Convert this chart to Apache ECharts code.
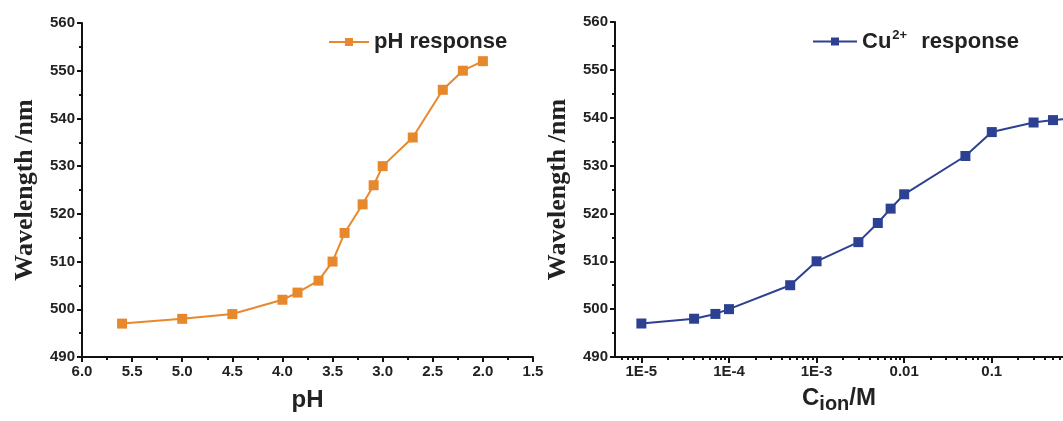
<!DOCTYPE html>
<html>
<head>
<meta charset="utf-8">
<script src="https://cdn.jsdelivr.net/npm/echarts@6/dist/echarts.min.js"></script>
<style>
  html, body { margin: 0; padding: 0; background: #fff; }
  #chart { width: 1063px; height: 421px; }
</style>
</head>
<body>
<div id="chart"></div>
<script>
// pH 响应数据
const phValues = [5.6, 5.0, 4.5, 4.0, 3.85, 3.64, 3.5, 3.38, 3.2, 3.09, 3.0, 2.7, 2.4, 2.2, 2.0];
const phWavelength = [497, 498, 499, 502, 503.5, 506, 510, 516, 522, 526, 530, 536, 546, 550, 552];

// Cu2+ 响应数据
const cuConc = [1e-5, 4e-5, 7e-5, 1e-4, 5e-4, 1e-3, 3e-3, 5e-3, 7e-3, 0.01, 0.05, 0.1, 0.3, 0.5, 1];
const cuWavelength = [497, 498, 499, 500, 505, 510, 514, 518, 521, 524, 532, 537, 539, 539.5, 540];

// 对数轴刻度
const logMajor = [1e-5, 1e-4, 1e-3, 0.01, 0.1];
const logLabels = { '-5': '1E-5', '-4': '1E-4', '-3': '1E-3', '-2': '0.01', '-1': '0.1' };
const logMinor = [];
[-6, -5, -4, -3, -2, -1].forEach(e => {
    for (let k = 2; k <= 9; k++) logMinor.push(k * Math.pow(10, e));
});

const orange = '#E8882C';
const blue = '#2C4192';

const tickLabel = { fontFamily: 'Liberation Sans', fontWeight: 'bold', fontSize: 15, color: '#222', margin: 7 };
const axisLineStyle = { show: true, onZero: false, lineStyle: { color: '#111', width: 2 } };

function yAxisFor(gridIndex, gap) {
    return {
        type: 'value', gridIndex: gridIndex, min: 490, max: 560, interval: 10,
        name: 'Wavelength /nm', nameLocation: 'middle', nameGap: gap,
        nameTextStyle: { fontFamily: 'Liberation Serif', fontWeight: 'bold', fontSize: 26, color: '#222' },
        axisLine: axisLineStyle,
        axisTick: { show: true, length: 5, lineStyle: { color: '#111', width: 2 } },
        minorTick: { show: true, splitNumber: 2, length: 3, lineStyle: { color: '#111', width: 2 } },
        axisLabel: Object.assign({}, tickLabel),
        splitLine: { show: false }
    };
}

const chart = echarts.init(document.getElementById('chart'));
chart.setOption({
    animation: false,
    backgroundColor: '#fff',
    grid: [
        { left: 82, right: 530, top: 23, bottom: 64 },
        { left: 615, right: 0, top: 22, bottom: 64 }
    ],
    legend: [
        {
            data: ['pH response'], left: 323, top: 26,
            itemWidth: 40, itemHeight: 10, itemGap: 6,
            textStyle: { fontFamily: 'Liberation Sans', fontWeight: 'bold', fontSize: 22, color: '#222' }
        },
        {
            data: ['Cu2+ response'], left: 807, top: 24,
            itemWidth: 44, itemHeight: 10, itemGap: 6,
            formatter: () => 'Cu{sup|2+} response',
            textStyle: {
                fontFamily: 'Liberation Sans', fontWeight: 'bold', fontSize: 22, color: '#222',
                rich: { sup: { fontFamily: 'Liberation Sans', fontWeight: 'bold', fontSize: 13, color: '#222', verticalAlign: 'top', padding: [0, 8, 12, 1] } }
            }
        }
    ],
    xAxis: [
        {
            type: 'value', gridIndex: 0, min: 1.5, max: 6, interval: 0.5, inverse: true,
            name: 'pH', nameLocation: 'middle', nameGap: 31,
            nameTextStyle: { fontFamily: 'Liberation Sans', fontWeight: 'bold', fontSize: 24, color: '#222' },
            axisLine: axisLineStyle,
            axisTick: { show: true, length: 5, lineStyle: { color: '#111', width: 2 } },
            minorTick: { show: true, splitNumber: 2, length: 3, lineStyle: { color: '#111', width: 2 } },
            axisLabel: Object.assign({ formatter: v => v.toFixed(1) }, tickLabel),
            splitLine: { show: false }
        },
        {
            type: 'log', gridIndex: 1, min: 5e-6, max: 0.65, position: 'bottom',
            name: '{b|C}{s|ion}{b|/M}', nameLocation: 'middle', nameGap: 29,
            nameTextStyle: {
                rich: {
                    b: { fontFamily: 'Liberation Sans', fontWeight: 'bold', fontSize: 24, color: '#222', verticalAlign: 'top' },
                    s: { fontFamily: 'Liberation Sans', fontWeight: 'bold', fontSize: 20, color: '#222', verticalAlign: 'bottom', padding: [8, 0, 0, 0] }
                }
            },
            axisLine: axisLineStyle,
            axisTick: { show: true, length: 6, customValues: logMajor, lineStyle: { color: '#111', width: 2 } },
            axisLabel: Object.assign({ customValues: logMajor, formatter: v => logLabels[String(Math.round(Math.log10(v)))] || '' }, tickLabel),
            splitLine: { show: false }
        },
        {
            type: 'log', gridIndex: 1, min: 5e-6, max: 0.65, position: 'bottom',
            axisLine: { show: false, onZero: false },
            axisTick: { show: true, length: 3, customValues: logMinor, lineStyle: { color: '#111', width: 2 } },
            axisLabel: { show: false },
            splitLine: { show: false }
        }
    ],
    yAxis: [yAxisFor(0, 44), yAxisFor(1, 44)],
    series: [
        {
            name: 'pH response', type: 'line', xAxisIndex: 0, yAxisIndex: 0,
            data: phValues.map((x, i) => [x, phWavelength[i]]),
            symbol: 'rect', symbolSize: 10,
            lineStyle: { color: orange, width: 2 },
            itemStyle: { color: orange }
        },
        {
            name: 'Cu2+ response', type: 'line', xAxisIndex: 1, yAxisIndex: 1,
            data: cuConc.map((x, i) => [x, cuWavelength[i]]),
            symbol: 'rect', symbolSize: 10, clip: true,
            lineStyle: { color: blue, width: 2 },
            itemStyle: { color: blue }
        }
    ]
});
</script>
</body>
</html>
